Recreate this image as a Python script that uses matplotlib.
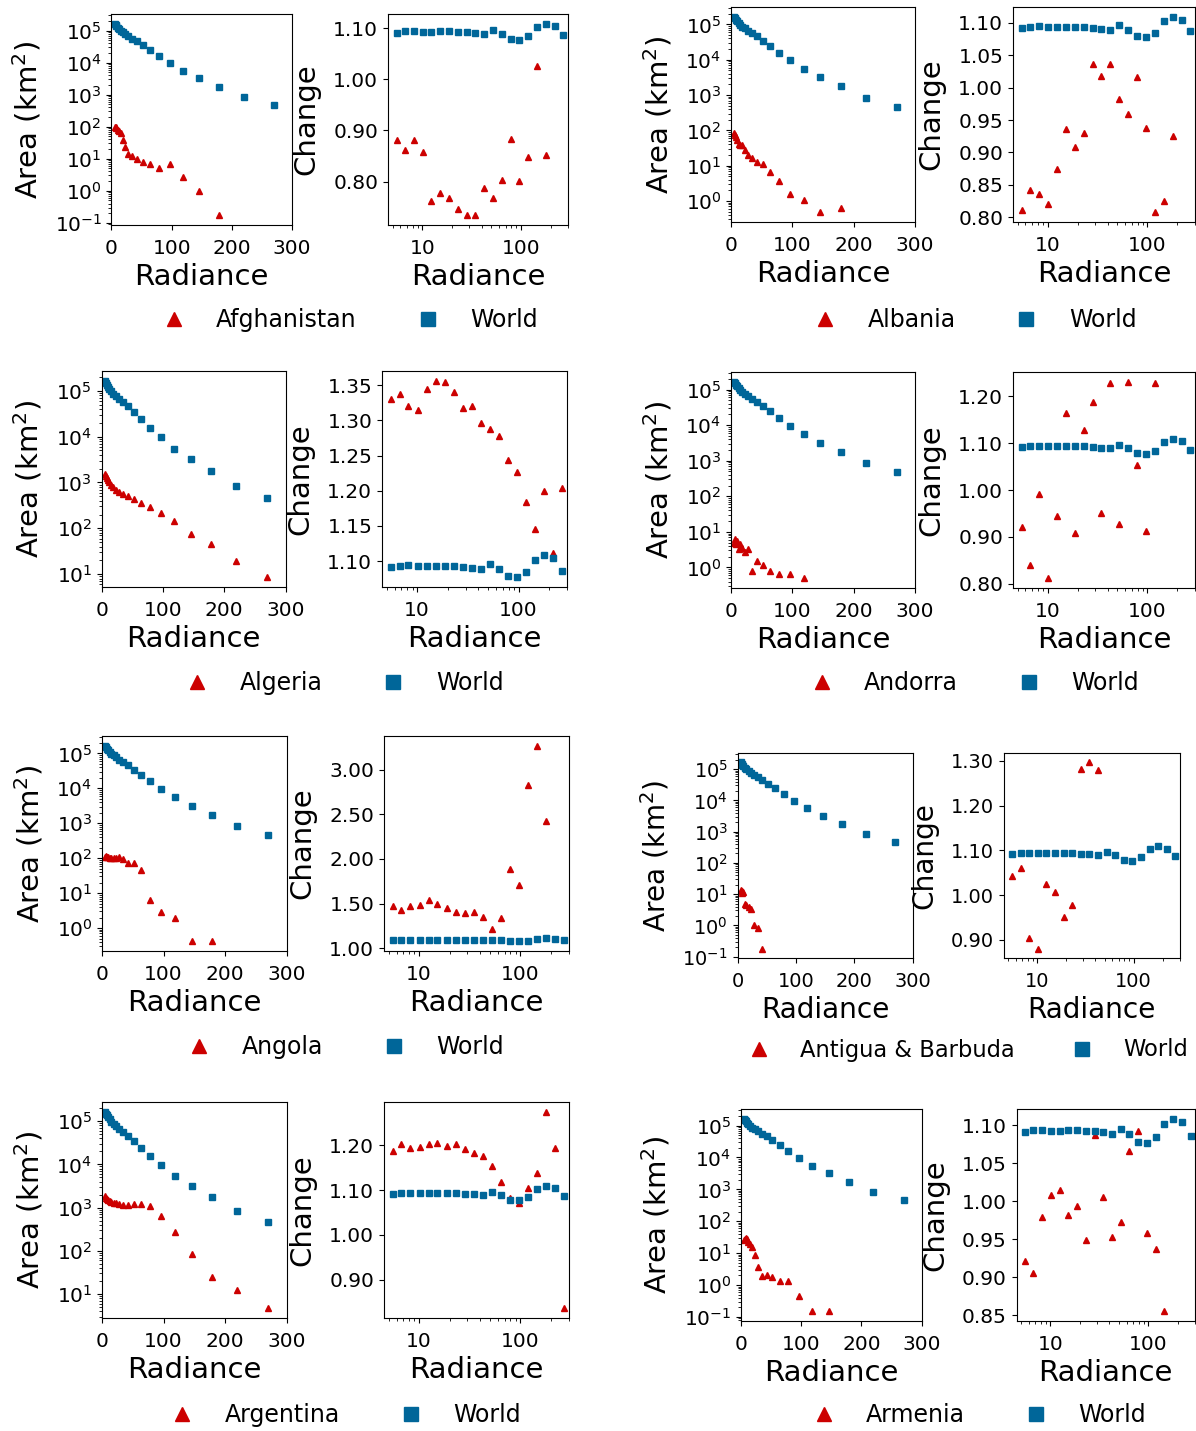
import numpy as np
import matplotlib
matplotlib.use("Agg")
import matplotlib.pyplot as plt
from matplotlib.ticker import FormatStrFormatter, NullFormatter, LogLocator, MaxNLocator

# radiance bins shared by every panel
radiance = [5.5, 6.7, 8.2, 10.1, 12.4, 15.2, 18.7, 23.0, 28.2, 34.6,
            42.5, 52.2, 64.1, 78.7, 96.7, 118.7, 145.8, 179.0, 219.9, 270.0]

world_area = [165000, 150000, 137000, 123000, 110000, 98000, 87000, 77000, 66000, 56000,
              46000, 34500, 24500, 15800, 9600, 5500, 3200, 1760, 850, 467]
world_change = [1.0915, 1.0936, 1.0943, 1.093, 1.093, 1.0936, 1.0936, 1.093, 1.0922, 1.0908,
                1.089, 1.0957, 1.089, 1.0787, 1.0773, 1.0844, 1.102, 1.109, 1.104, 1.0865]

afghanistan_area = [100, 95, 88, 80, 75, 62, 38, 24, 14, 12, 9.5, 8, 6.7, 5.2, 7.0, 2.7, 1.0, 0.17]
afghanistan_change = [0.881, 0.862, 0.881, 0.857, 0.762, 0.777, 0.769, 0.746, 0.734, 0.734,
                      0.788, 0.769, 0.803, 0.884, 0.801, 0.848, 1.026, 0.853]

albania_area = [85, 75, 65, 55, 40, 38, 38, 28, 20, 17, 13, 11.5, 6.5, 3.7, 1.6, 1.1, 0.48, 0.62]
albania_change = [0.812, 0.842, 0.836, 0.820, 0.874, 0.936, 0.908, 0.930, 1.037, 1.018,
                  1.036, 0.983, 0.960, 1.017, 0.937, 0.808, 0.825, 0.926]

algeria_area = [1500, 1380, 1250, 1120, 1000, 880, 780, 700, 630, 570,
                510, 440, 355, 285, 218, 148, 77, 45, 19, 8.6]
algeria_change = [1.330, 1.337, 1.320, 1.315, 1.344, 1.356, 1.355, 1.340, 1.318, 1.320,
                  1.296, 1.287, 1.278, 1.243, 1.227, 1.184, 1.146, 1.199, 1.111, 1.204]

andorra_area = [5.0, 6.2, 4.5, 5.5, 3.3, 4.5, 3.6, 2.8, 3.3, 0.8, 1.5, 1.2, 0.8, 0.65, 0.65, 0.5]
andorra_change = [0.922, 0.840, 0.991, 0.812, 0.945, 1.164, 0.909, 1.129, 1.188, 0.951,
                  1.229, 0.927, 1.231, 1.054, 0.913, 1.229]

angola_area = [105, 112, 110, 105, 102, 100, 98, 100, 105, 95, 75, 75, 45, 6.5, 2.9, 1.9, 0.42, 0.42]
angola_change = [1.477, 1.425, 1.477, 1.485, 1.545, 1.500, 1.455, 1.410, 1.390, 1.410,
                 1.350, 1.210, 1.335, 1.885, 1.705, 2.830, 3.270, 2.425]

antigua_area = [14, 12.5, 10.5, 12, 5.0, 4.5, 3.8, 3.3, 1.0, 0.8, 0.18]
antigua_change = [1.043, 1.061, 0.904, 0.880, 1.025, 1.007, 0.952, 0.977, 1.281, 1.297, 1.279]

argentina_area = [1850, 1700, 1600, 1500, 1420, 1350, 1300, 1250, 1200, 1150,
                  1130, 1200, 1200, 1070, 650, 270, 84, 25, 12.4, 4.7]
argentina_change = [1.188, 1.204, 1.195, 1.196, 1.202, 1.205, 1.199, 1.204, 1.191, 1.183,
                    1.176, 1.153, 1.117, 1.082, 1.072, 1.104, 1.138, 1.275, 1.194, 0.836]

armenia_area = [25, 28, 30, 28, 23, 19, 15.5, 8.6, 3.7, 1.9, 2.0, 1.8, 1.3, 1.3, 0.46, 0.15, 0.15]
armenia_change = [0.922, 0.905, 0.979, 1.009, 1.015, 0.982, 0.994, 0.949, 1.087, 1.006,
                  0.953, 0.973, 1.066, 1.093, 0.958, 0.937, 0.855]

RED = "#cc0000"
BLUE = "#006699"
W, H = 1196, 1431


def box(l, r, t, b):
    # pixel box -> figure fraction
    return [l / W, 1 - b / H, (r - l) / W, (b - t) / H]


def draw_panel(fig, name, area, change, left_box, right_box, legend_xy, scale=1.0):
    ax1 = fig.add_axes(box(*left_box))
    ax2 = fig.add_axes(box(*right_box))

    h1, = ax1.plot(radiance[:len(area)], area, "^", color=RED, ms=5, ls="none")
    h2, = ax1.plot(radiance, world_area, "s", color=BLUE, ms=5, ls="none")
    ax1.set_yscale("log")
    ax1.yaxis.set_major_locator(LogLocator(base=10, numticks=20))
    ax1.yaxis.set_minor_locator(LogLocator(base=10, subs=np.arange(2, 10), numticks=20))
    ax1.yaxis.set_minor_formatter(NullFormatter())
    ax1.set_xlim(0, 300)
    ax1.set_xticks([0, 100, 200, 300])
    ax1.set_xlabel("Radiance", fontsize=21 * scale)
    ax1.set_ylabel("Area (km$^2$)", fontsize=21 * scale, labelpad=8)

    ax2.plot(radiance[:len(change)], change, "^", color=RED, ms=5, ls="none")
    ax2.plot(radiance, world_change, "s", color=BLUE, ms=5, ls="none")
    ax2.set_xscale("log")
    ax2.set_xlim(4.5, 300)
    ax2.xaxis.set_major_formatter(FormatStrFormatter("%d"))
    ax2.xaxis.set_minor_formatter(NullFormatter())
    ax2.yaxis.set_major_locator(MaxNLocator(nbins=7, steps=[1, 2, 2.5, 5, 10]))
    ax2.yaxis.set_major_formatter(FormatStrFormatter("%.2f"))
    ax2.set_xlabel("Radiance", fontsize=21 * scale)
    ax2.set_ylabel("Change", fontsize=21 * scale, labelpad=9)

    for ax in (ax1, ax2):
        ax.tick_params(labelsize=14.5 * scale)
        ax.tick_params(axis="x", pad=6.5)

    fig.legend([h1, h2], [name, "World"], loc="center",
               bbox_to_anchor=(legend_xy[0] / W, 1 - legend_xy[1] / H),
               ncol=2, frameon=False, fontsize=17 * scale, markerscale=2)


fig = plt.figure(figsize=(W / 100, H / 100), dpi=100)

draw_panel(fig, "Afghanistan", afghanistan_area, afghanistan_change,
           (111.5, 292, 14, 225), (388, 568, 14, 225), (344, 320))
draw_panel(fig, "Albania", albania_area, albania_change,
           (731, 915, 7, 222), (1013, 1195, 7, 222), (969, 320))
draw_panel(fig, "Algeria", algeria_area, algeria_change,
           (101.7, 285.5, 371, 587), (382, 567, 371, 587), (338.5, 683))
draw_panel(fig, "Andorra", andorra_area, andorra_change,
           (731, 915, 372, 588), (1013, 1195, 372, 588), (968.6, 683))
draw_panel(fig, "Angola", angola_area, angola_change,
           (102, 286.5, 736, 951), (384, 568.5, 736, 951), (340, 1047))
draw_panel(fig, "Antigua & Barbuda", antigua_area, antigua_change,
           (737.6, 912.6, 753, 958), (1004, 1179.7, 753, 958), (962, 1050), scale=0.96)
draw_panel(fig, "Argentina", argentina_area, argentina_change,
           (102, 286.5, 1102, 1318), (384, 568.5, 1102, 1318), (340, 1415))
draw_panel(fig, "Armenia", armenia_area, armenia_change,
           (741, 921.7, 1109, 1321), (1016.5, 1195, 1109, 1321), (973, 1415))

fig.savefig("out.png", dpi=100)
